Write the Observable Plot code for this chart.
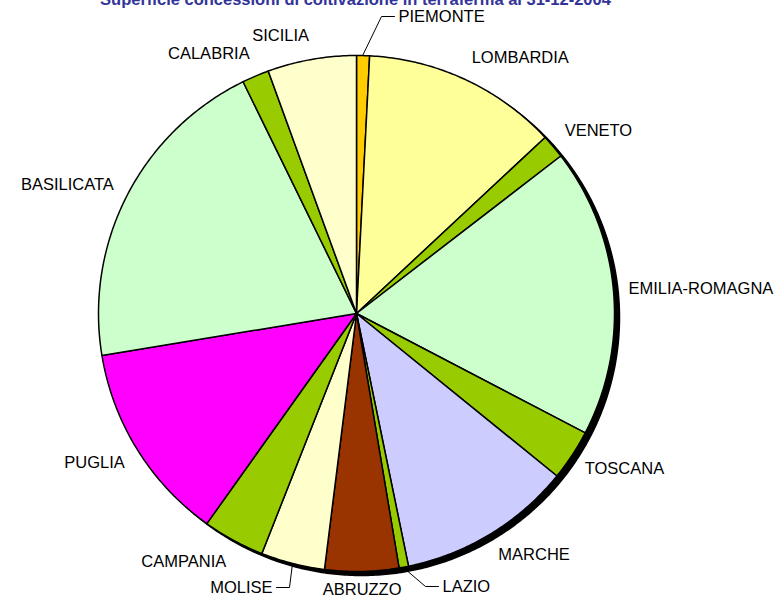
<!DOCTYPE html>
<html>
<head>
<meta charset="utf-8">
<script src="https://cdn.jsdelivr.net/npm/d3@7"></script>
<script src="https://cdn.jsdelivr.net/npm/@observablehq/plot@0.6"></script>
<style>
  body { margin: 0; background: #fff; }
  #chart svg { display: block; }
</style>
</head>
<body>
<div id="chart"></div>
<script>
// ---- data ----
const title = "Superficie concessioni di coltivazione in terraferma al 31-12-2004";
const regions = ["PIEMONTE", "LOMBARDIA", "VENETO", "EMILIA-ROMAGNA", "TOSCANA", "MARCHE", "LAZIO",
                 "ABRUZZO", "MOLISE", "CAMPANIA", "PUGLIA", "BASILICATA", "CALABRIA", "SICILIA"];
const areas = [130, 1960, 240, 2900, 510, 1750, 95, 740, 640, 620, 2010, 3260, 270, 890]; // km² (estimated)
const colors = ["#FFCC00", "#FFFF99", "#99CC00", "#CCFFCC", "#99CC00", "#CCCCFF", "#99CC00",
                "#993300", "#FFFFCC", "#99CC00", "#FF00FF", "#CCFFCC", "#99CC00", "#FFFFCC"];

// ---- layout ----
const W = 778, H = 599;
const cx = 356, cy = 313, R = 258;
const shadow = [5, 4];
const labelGap = 15;
// labels moved away by hand, with leader lines (offset from pie centre)
const leaderLabels = {
  "PIEMONTE": {dx: 42, dy: -297, anchor: "start"},
  "LAZIO": {dx: 86, dy: 273, anchor: "start"},
  "MOLISE": {dx: -84, dy: 274, anchor: "end"}
};

const arcs = d3.pie().sort(null).value(d => d)(areas);

function arcPoints(k, a0, a1, ox = 0, oy = 0, withCenter = true) {
  const pts = [];
  if (withCenter) pts.push({k, x: cx + ox, y: cy + oy});
  const n = Math.max(2, Math.ceil((a1 - a0) / 0.01));
  for (let j = 0; j <= n; j++) {
    const a = a0 + (a1 - a0) * j / n;
    pts.push({k, x: cx + ox + R * Math.sin(a), y: cy + oy - R * Math.cos(a)});
  }
  return pts;
}

const slicePts = arcs.flatMap((p, i) => arcPoints(i, p.startAngle, p.endAngle));
const shadowPts = arcPoints(-1, 0, 2 * Math.PI, shadow[0], shadow[1], false);

const labels = [];
const leaders = [];
arcs.forEach((p, i) => {
  const name = regions[i];
  const a = (p.startAngle + p.endAngle) / 2;
  const s = Math.sin(a), c = Math.cos(a);
  const ov = leaderLabels[name];
  if (ov) {
    const lx = cx + ov.dx, ly = cy + ov.dy;
    labels.push({name, x: lx, y: ly, anchor: ov.anchor});
    const sign = ov.anchor === "start" ? -1 : 1;
    leaders.push({k: i, x: cx + (R + 1) * s, y: cy - (R + 1) * c});
    leaders.push({k: i, x: lx + sign * 17, y: ly});
    leaders.push({k: i, x: lx + sign * 4, y: ly});
  } else {
    const rr = R + labelGap;
    const x = cx + rr * s;
    let y = cy - rr * c - c * 9;
    y = Math.min(y, H - 10);
    const anchor = Math.abs(s) < 0.1 ? "middle" : (s > 0 ? "start" : "end");
    labels.push({name, x, y, anchor});
  }
});

const font = "Liberation Sans, Arial, Helvetica, sans-serif";
const textMark = (anchor) => Plot.text(labels.filter(d => d.anchor === anchor), {
  x: "x", y: "y", text: "name", textAnchor: anchor, lineAnchor: "middle",
  fontSize: 16.5, fill: "#000", fontFamily: font
});

const chart = Plot.plot({
  width: W, height: H, margin: 0,
  x: {domain: [0, W], range: [0, W], axis: null},
  y: {domain: [0, H], range: [0, H], axis: null},
  color: {type: "identity"},
  style: {fontFamily: font, background: "#fff"},
  marks: [
    Plot.line(shadowPts, {x: "x", y: "y", z: "k", fill: "#000", stroke: "#000", curve: "linear-closed"}),
    Plot.line(slicePts, {x: "x", y: "y", z: "k", fill: d => colors[d.k], stroke: "#000",
                         strokeWidth: 1.5, strokeLinejoin: "round", curve: "linear-closed"}),
    Plot.line(leaders, {x: "x", y: "y", z: "k", stroke: "#000", strokeWidth: 1}),
    textMark("start"), textMark("end"), textMark("middle"),
    Plot.text([title], {frameAnchor: "top", lineAnchor: "bottom", dx: -34, dy: 4,
                        fontSize: 16.5, fontWeight: "bold", fill: "#333399", fontFamily: font})
  ]
});
document.getElementById("chart").appendChild(chart);
</script>
</body>
</html>
